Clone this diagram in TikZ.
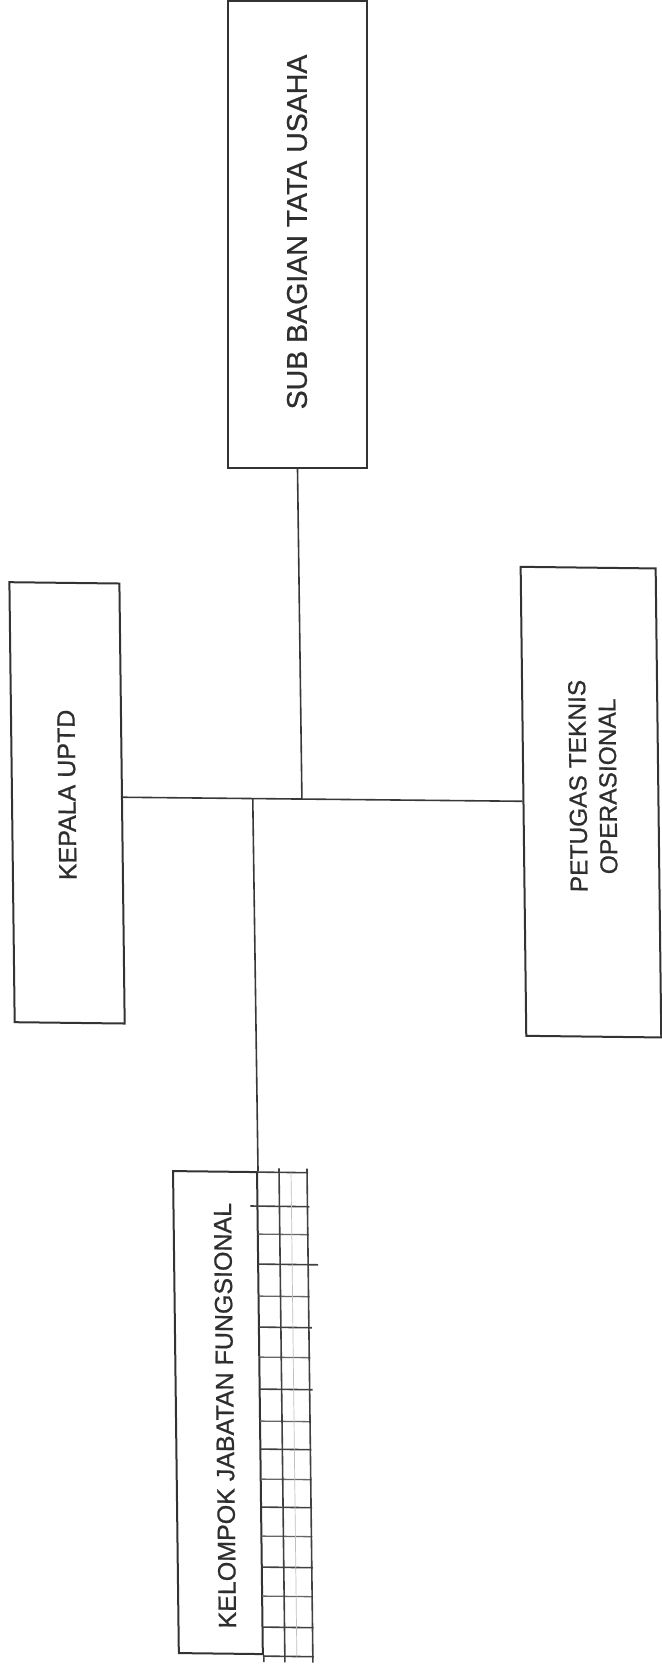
\documentclass[tikz,border=0pt]{standalone}
\usepackage{fontspec}
\setmainfont{Liberation Sans}
\newfontfamily\lblfont[FakeBold=0.7]{Liberation Sans}
\usetikzlibrary{calc}
\begin{document}
\begin{tikzpicture}[x=1pt,y=-1pt,
  orgbox/.style={draw=black!80, line width=2pt, inner sep=0pt},
  lbl/.style={rotate=90, inner sep=0pt, text=black!82, align=center},
  conn/.style={draw=black!78, line width=1.6pt},
  gridA/.style={draw=black!75, line width=1.6pt},
  gridB/.style={draw=black!60, line width=1.3pt},
  gridC/.style={draw=black!25, line width=0.7pt}]
\useasboundingbox (0,0) rectangle (661,1672);
\fill[white] (0,0) rectangle (661,1672);
% SUB BAGIAN TATA USAHA (not skewed)
\node[orgbox, minimum width=139pt, minimum height=467pt] (sub) at (297.5,234.5) {};
\node[lbl, font=\lblfont\fontsize{28.5}{34}\selectfont] (subt) at (297,232) {SUB BAGIAN TATA USAHA};
\begin{scope}[shift={(330,836)}, cm={1,-0.012,-0.012,1,(0,0)}, shift={(-330,-836)}, transform shape]
  \node[orgbox, minimum width=110pt, minimum height=440pt] (kep) at (67.4,806) {};
  \node[lbl, font=\lblfont\fontsize{25}{30}\selectfont] (kept) at (67.5,798) {KEPALA UPTD};
  \node[orgbox, minimum width=135pt, minimum height=469pt] (pet) at (591.4,799) {};
  \node[lbl, font=\lblfont\fontsize{24.5}{30}\selectfont] (pett) at (593.6,783) {PETUGAS TEKNIS\\OPERASIONAL};
  \node[orgbox, minimum width=84pt, minimum height=482pt] (kel) at (211,1414) {};
  \node[lbl, font=\lblfont\fontsize{25}{30}\selectfont] (kelt) at (218,1417) {KELOMPOK JABATAN FUNGSIONAL};
  % grid beside KELOMPOK
  \foreach \yy/\st in {1173/gridA,1235/gridB,1297/gridB,1358/gridB,1422/gridB,1450/gridA,1480/gridB,1508/gridA,1537/gridB,1568/gridA,1597/gridB,1628/gridA,1657/gridA}
    \draw[\st] (253,\yy) -- (304,\yy);
  \draw[gridA] (246,1207) -- (305,1207);
  \draw[gridA] (253,1265) -- (313,1265);
  \draw[gridA] (253,1328) -- (306,1328);
  \draw[gridA] (253,1390) -- (306,1390);
  \draw[gridC] (287,1173) -- (287,1657);
  \draw[gridA] (275,1169) -- (275,1663);
  \draw[gridA] (303,1169) -- (303,1663);
  \draw[gridA] (kel.south east) -- ++(0,7);
  % connectors
  \path (kep.north east) -- (kep.south east) coordinate[pos=0.486] (kepE);
  \draw[conn] (kepE) -- coordinate[pos=0.325] (jF) coordinate[pos=0.448] (jS) (pet.west);
  \draw[conn] (jF) -- (kel.north east);
\end{scope}
\draw[conn] (sub.south) -- (jS);
\end{tikzpicture}
\end{document}
